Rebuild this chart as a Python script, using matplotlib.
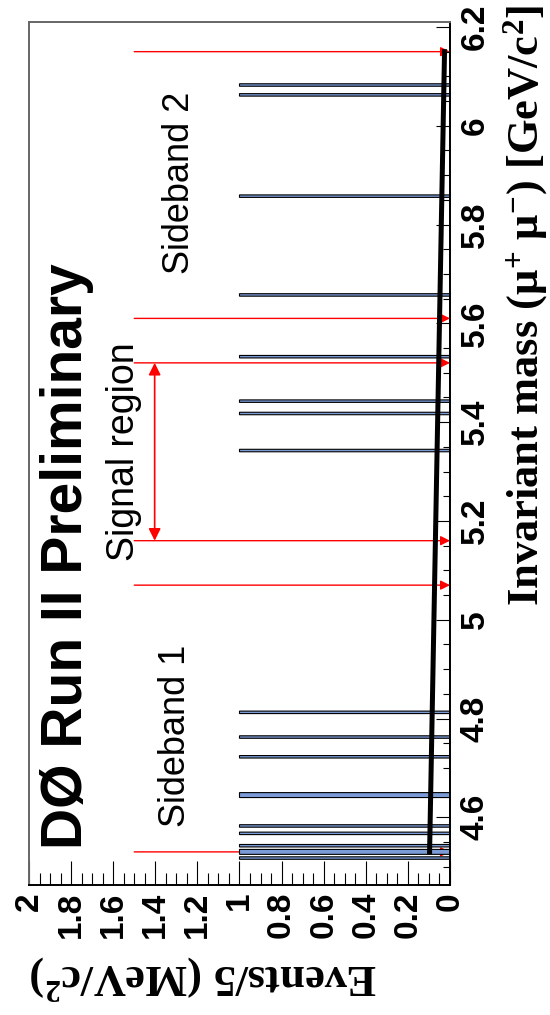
# D0 Bs -> mu mu search: invariant mass of candidates (rotated page layout)
import numpy as np
import matplotlib
matplotlib.use('Agg')
import matplotlib.pyplot as plt
from matplotlib.ticker import MultipleLocator, FuncFormatter

plt.rcParams['font.family'] = ['Liberation Sans', 'DejaVu Sans']
plt.rcParams['mathtext.fontset'] = 'custom'
plt.rcParams['mathtext.rm'] = 'Liberation Serif:bold'
plt.rcParams['mathtext.default'] = 'rm'

# candidate masses in GeV (one event each, 5 MeV bins)
event_mass = [4.5175, 4.5275, 4.5325, 4.5425, 4.5675, 4.5825, 4.6425, 4.6475,
              4.7225, 4.7625, 4.8125, 5.3425, 5.4175, 5.4425, 5.5325, 5.6575,
              5.8575, 6.0625, 6.0825]
bin_width = 0.005

# expected background (events / 5 MeV)
bkg_mass = [4.53, 6.15]
bkg_level = [0.097, 0.026]

# sideband / signal window boundaries
cut_mass = [4.53, 5.07, 5.16, 5.52, 5.61, 6.15]
signal_lo, signal_hi = 5.16, 5.52

mass_lim = (4.463, 6.210)
events_lim = (2, 0)

fig = plt.figure(figsize=(5.5, 10.15), dpi=100)
ax = fig.add_axes([0.0527, 0.1281, 0.7655, 0.8502])

edges = np.arange(4.46, 6.215, bin_width)
ax.hist(event_mass, bins=edges, orientation='horizontal', histtype='stepfilled',
        facecolor='#7b9bd6', edgecolor='black', linewidth=0.8, zorder=2)

ax.plot(bkg_level, bkg_mass, color='black', lw=3.6, zorder=3)

# red cut lines with arrows pointing at the axis
for m in cut_mass:
    ax.annotate('', xy=(0.0, m), xytext=(1.5, m), zorder=1,
                arrowprops=dict(arrowstyle='-|>', color='red', lw=1.0,
                                mutation_scale=14, shrinkA=0, shrinkB=0))

ax.annotate('', xy=(1.403, signal_lo), xytext=(1.403, signal_hi), zorder=1,
            arrowprops=dict(arrowstyle='<|-|>', color='red', lw=1.2,
                            mutation_scale=18, shrinkA=0, shrinkB=0))

ax.text(1.749, 5.129, 'DØ Run II Preliminary', rotation=90, rotation_mode='anchor',
        ha='center', va='baseline', fontsize=41, fontweight='bold')
ax.text(1.502, 5.34, 'Signal region', rotation=90, rotation_mode='anchor',
        ha='center', va='baseline', fontsize=27)
ax.text(1.242, 5.884, 'Sideband 2', rotation=90, rotation_mode='anchor',
        ha='center', va='baseline', fontsize=26)
ax.text(1.261, 4.765, 'Sideband 1', rotation=90, rotation_mode='anchor',
        ha='center', va='baseline', fontsize=26)

ax.set_xlim(*events_lim)
ax.set_ylim(*mass_lim)

fmt = FuncFormatter(lambda v, p: f'{v:g}')
ax.xaxis.set_major_locator(MultipleLocator(0.2))
ax.xaxis.set_minor_locator(MultipleLocator(0.05))
ax.xaxis.set_major_formatter(fmt)
ax.yaxis.set_major_locator(MultipleLocator(0.2))
ax.yaxis.set_minor_locator(MultipleLocator(0.05))
ax.yaxis.set_major_formatter(fmt)

ax.yaxis.tick_right()
ax.tick_params(axis='y', which='both', direction='in', left=False, right=True,
               labelleft=False, labelright=True, labelrotation=90, pad=7,
               labelsize=24, width=0.8)
ax.tick_params(axis='y', which='major', length=10)
ax.tick_params(axis='y', which='minor', length=5)
ax.tick_params(axis='x', which='both', direction='in', top=False, bottom=True,
               labelrotation=90, pad=5, labelsize=24, width=0.8)
ax.tick_params(axis='x', which='major', length=17)
ax.tick_params(axis='x', which='minor', length=8.5)
for lab in ax.get_xticklabels():
    lab.set_fontweight('bold')
for tick in ax.yaxis.get_major_ticks():
    tick.label2.set_fontweight('bold')
    tick.label2.set_verticalalignment('center')

for side in ['right', 'bottom']:
    ax.spines[side].set_linewidth(1.4)
    ax.spines[side].set_color('black')
for side in ['left', 'top']:
    ax.spines[side].set_linewidth(1.4)
    ax.spines[side].set_color('#666666')

fig.text(0.955, 0.995, 'Invariant mass (μ$^{+}$ μ$^{-}$) [GeV/c$^{2}$]',
         rotation=90, ha='center', va='top', fontsize=32, fontweight='bold',
         family='Liberation Serif')
fig.text(30 / 550, 1 - 977 / 1015, 'Events/5 (MeV/c$^{2}$)', rotation=180,
         ha='left', va='center', fontsize=32, fontweight='bold',
         family='Liberation Serif')

fig.savefig('out.png', dpi=100)
